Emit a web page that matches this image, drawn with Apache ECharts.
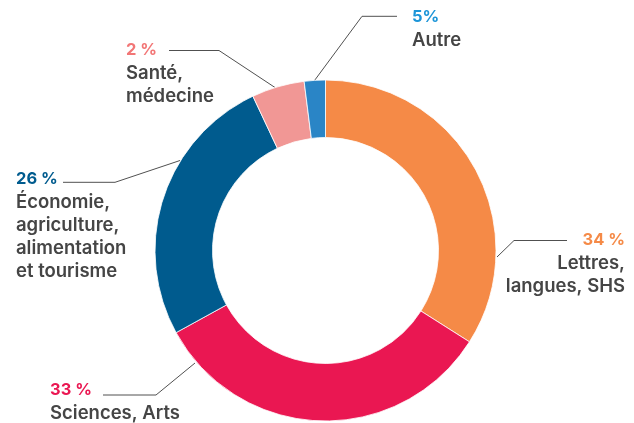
<!DOCTYPE html>
<html>

<head>
	<meta charset="UTF-8">
	<title></title>
	<style>
		html, body {
			margin: 0;
			padding: 0;
			background: #ffffff;
		}
		#chart1 {
			width: 634px;
			height: 423px;
		}
	</style>
	<script src="https://cdn.jsdelivr.net/npm/echarts@6/dist/echarts.min.js"></script>
</head>

<body>
	<div id="chart1"></div>
	<script>
		// slices in drawing order, clockwise from 12 o'clock
		var categories = ['Lettres,\nlangues, SHS', 'Sciences, Arts', 'Économie,\nagriculture,\nalimentation\net tourisme', 'Santé,\nmédecine', 'Autre'];
		// slice sizes as drawn
		var values = [34, 33, 26, 5, 2];
		// percent texts as printed on the chart
		var percentLabels = ['34 %', '33 %', '26 %', '2 %', '5%'];
		var colors = ['#F58A47', '#EA1752', '#005B8E', '#F19795', '#2A85C6'];
		var textColors = ['#F58A47', '#EA1752', '#005B8E', '#F27676', '#1C95D8'];

		// where each label and its leader line go (px)
		var placement = [
			{ x: 625, y: 229, align: 'right', line: [[497, 257], [514, 240.5], [567, 240.5]] },
			{ x: 50, y: 378.5, align: 'left', line: [[195, 363], [156, 395], [103, 395]] },
			{ x: 16, y: 167.5, align: 'left', line: [[180, 160.5], [115, 182.3], [63, 182.3]] },
			{ x: 126, y: 38.5, align: 'left', line: [[275, 87.5], [219, 50.5], [169, 50.5]] },
			{ x: 412, y: 5.5, align: 'left', line: [[314.5, 80.5], [362, 16.3], [397, 16.3]] }
		];

		var font = 'Inter, Roboto, "Liberation Sans", sans-serif';

		var pieData = values.map(function (v, i) {
			var names = categories[i].split('\n').map(function (s) {
				return '{n|' + s + '}';
			}).join('\n');
			return {
				name: categories[i],
				value: v,
				itemStyle: { color: colors[i] },
				label: {
					formatter: '{p|' + percentLabels[i] + '}\n' + names,
					width: 140,
					rich: {
						p: {
							fontFamily: font,
							fontSize: 16.5,
							fontWeight: 700,
							color: textColors[i],
							lineHeight: 23,
							align: placement[i].align
						},
						n: {
							fontFamily: font,
							fontSize: 18.5,
							fontWeight: 600,
							color: '#454545',
							lineHeight: 23,
							align: placement[i].align
						}
					}
				}
			};
		});

		var myChart = echarts.init(document.getElementById('chart1'));
		myChart.setOption({
			animation: false,
			series: [
				{
					type: 'pie',
					center: [325.5, 250.5],
					radius: [113, 170.5],
					startAngle: 90,
					clockwise: true,
					silent: true,
					itemStyle: {
						borderColor: '#ffffff',
						borderWidth: 0.8
					},
					label: {
						show: true,
						position: 'outside',
						overflow: 'none'
					},
					labelLine: {
						show: true,
						smooth: false,
						lineStyle: {
							color: '#505050',
							width: 1
						}
					},
					labelLayout: function (params) {
						var p = placement[params.dataIndex];
						return {
							x: p.x,
							y: p.y,
							align: p.align,
							verticalAlign: 'top',
							labelLinePoints: p.line
						};
					},
					emphasis: { disabled: true },
					data: pieData
				}
			]
		});
	</script>
</body>

</html>
